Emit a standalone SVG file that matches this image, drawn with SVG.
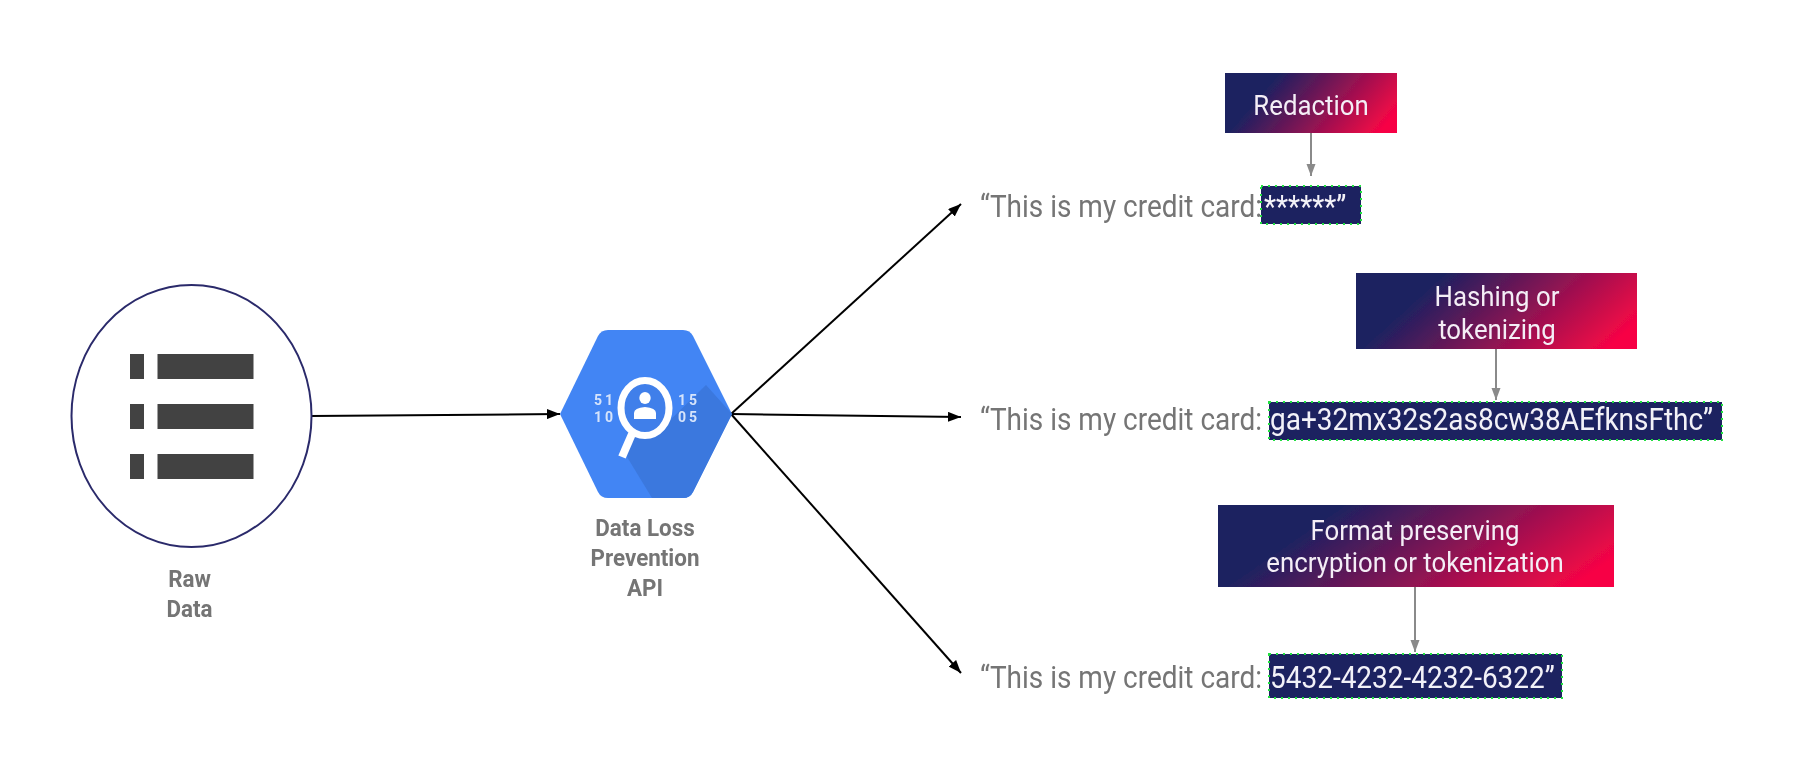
<svg xmlns="http://www.w3.org/2000/svg" width="1798" height="771" viewBox="0 0 1798 771">
<style>
text{font-family:Roboto,"Liberation Sans",sans-serif}
g{filter:url(#s)}
.lbl{font-size:22.400px;font-weight:700;fill:#757575;text-anchor:middle}
.q{font-size:28px;fill:#757575}
.h{font-size:28px;fill:#f2f2f8}
.b{font-size:25.800px;fill:#f4eef6;text-anchor:middle}
.hl{fill:#1f2060;stroke:#22e040;stroke-width:2;stroke-dasharray:2 5}
.grad{fill:url(#g)}
.ln{fill:none;stroke:#000;stroke-width:2;marker-end:url(#ah)}
.gl{fill:none;stroke:#8a8a8a;stroke-width:2;marker-end:url(#ag)}
.bar{fill:#424242}
.d{font-size:14px;font-weight:700;fill:#d6e4fb;letter-spacing:3px}
</style>
<defs>
<filter id="s" x="-2%" y="-2%" width="104%" height="104%"><feGaussianBlur stdDeviation="0.6"/></filter>
<linearGradient id="g" x1="0" y1="0.35" x2="1" y2="0.65"><stop offset="0.2" stop-color="#1f2160"/><stop offset="1" stop-color="#f70545"/></linearGradient>
<marker id="ah" markerUnits="userSpaceOnUse" markerWidth="14" markerHeight="10" refX="13" refY="5" orient="auto"><path d="M0 0L13 5L0 10z" fill="#000"/></marker>
<marker id="ag" markerUnits="userSpaceOnUse" markerWidth="13" markerHeight="10" refX="12" refY="4.500" orient="auto"><path d="M0 0L12 4.500L0 9z" fill="#8a8a8a"/></marker>
</defs>
<rect width="1798" height="771" fill="#fff"/>
<g id="connectors">
<path class="ln" d="M311 416L560 414"/>
<path class="ln" d="M731 414L961 204"/>
<path class="ln" d="M731 414L961 417"/>
<path class="ln" d="M731 414L961 673"/>
<path class="gl" d="M1311 133V176"/>
<path class="gl" d="M1496 349V400"/>
<path class="gl" d="M1415 587V652"/>
</g>
<g id="raw-data">
<ellipse cx="191.500" cy="416" rx="120" ry="131" fill="#fff" stroke="#2b2a6b" stroke-width="2"/>
<rect class="bar" x="130" y="354" width="14" height="25"/><rect class="bar" x="157.500" y="354" width="96" height="25"/>
<rect class="bar" x="130" y="404" width="14" height="25"/><rect class="bar" x="157.500" y="404" width="96" height="25"/>
<rect class="bar" x="130" y="454" width="14" height="25"/><rect class="bar" x="157.500" y="454" width="96" height="25"/>
<text class="lbl" transform="translate(189.500 587) scale(1 1.1)">Raw</text>
<text class="lbl" transform="translate(189.500 617) scale(1 1.1)">Data</text>
</g>
<g id="dlp-api">
<path d="M560 414L598 336Q601 330 608 330H683Q690 330 693 336L732 414L693 492Q690 498 683 498H608Q601 498 598 492Z" fill="#4285f4"/>
<path d="M632 431L624 452L652 498H683Q690 498 693 492L732 414L706 385L665 425Z" fill="#3b78de"/>
<ellipse cx="645" cy="408" rx="24" ry="27.500" fill="#3f7fea" stroke="#fff" stroke-width="7"/>
<path d="M632 434L622 457" stroke="#fff" stroke-width="8" fill="none"/>
<ellipse cx="645" cy="398" rx="5.700" ry="6" fill="#fff"/>
<path d="M634 419V413Q634 408 645 407Q656 408 656 413V419Z" fill="#fff"/>
<text class="d" x="594" y="405">51</text><text class="d" x="594" y="422">10</text>
<text class="d" x="678" y="405">15</text><text class="d" x="678" y="422">05</text>
<text class="lbl" transform="translate(645 536) scale(1 1.1)">Data Loss</text>
<text class="lbl" transform="translate(645 566) scale(1 1.1)">Prevention</text>
<text class="lbl" transform="translate(645 596) scale(1 1.1)">API</text>
</g>
<g id="redaction">
<rect class="grad" x="1225" y="73" width="172" height="60"/>
<text class="b" transform="translate(1311 115) scale(1 1.09)">Redaction</text>
</g>
<g id="hashing">
<rect class="grad" x="1356" y="273" width="281" height="76"/>
<text class="b" transform="translate(1497 306) scale(1 1.09)">Hashing or</text>
<text class="b" transform="translate(1497 339) scale(1 1.09)">tokenizing</text>
</g>
<g id="format">
<rect class="grad" x="1218" y="505" width="396" height="82"/>
<text class="b" transform="translate(1415 540) scale(1 1.09)">Format preserving</text>
<text class="b" transform="translate(1415 572) scale(1 1.09)">encryption or tokenization</text>
</g>
<g id="output-1">
<rect class="hl" x="1261" y="186" width="100" height="38"/>
<text class="q" transform="translate(980 217) scale(1 1.09)">“This is my credit card:</text>
<text class="h" transform="translate(1264 217) scale(1 1.09)">******”</text>
</g>
<g id="output-2">
<rect class="hl" x="1269" y="402" width="453" height="38"/>
<text class="q" transform="translate(980 430) scale(1 1.09)">“This is my credit card:</text>
<text class="h" transform="translate(1270 430) scale(1 1.09)">ga+32mx32s2as8cw38AEfknsFthc”</text>
</g>
<g id="output-3">
<rect class="hl" x="1269" y="654" width="293" height="44"/>
<text class="q" transform="translate(980 688) scale(1 1.09)">“This is my credit card:</text>
<text class="h" transform="translate(1270 688) scale(1 1.09)">5432-4232-4232-6322”</text>
</g>
</svg>
